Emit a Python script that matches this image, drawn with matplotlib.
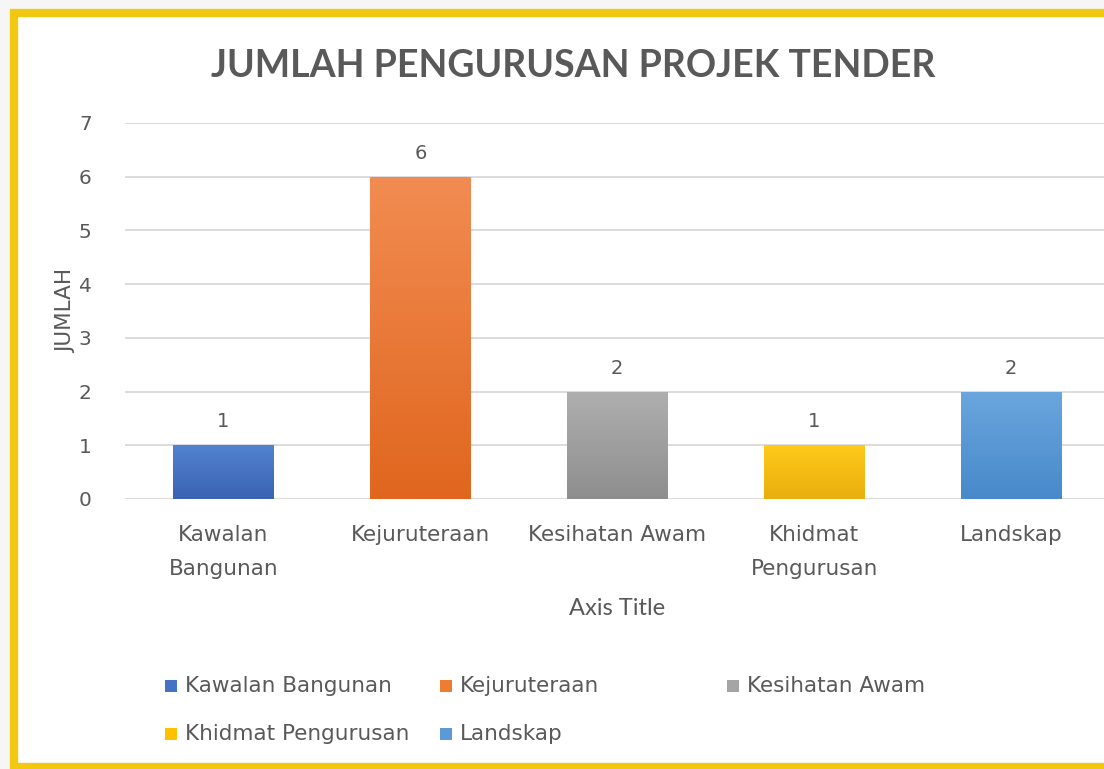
import numpy as np
import matplotlib.pyplot as plt
from matplotlib.patches import Rectangle
from matplotlib.colors import LinearSegmentedColormap

plt.rcParams['font.family'] = ['DejaVu Sans']

# ================= DATA =================
categories = ["Kawalan Bangunan", "Kejuruteraan", "Kesihatan Awam",
              "Khidmat Pengurusan", "Landskap"]
tick_labels = ["Kawalan\nBangunan", "Kejuruteraan", "Kesihatan Awam",
               "Khidmat\nPengurusan", "Landskap"]
values = [1, 6, 2, 1, 2]

# (top, bottom) gradient colours per bar
colors_top = ["#5282D0", "#F28C52", "#AFAFAF", "#FFCA1A", "#6BA6DE"]
colors_bottom = ["#3A63B2", "#E0661E", "#8E8E8E", "#E9AE0E", "#4789CA"]
legend_colors = ["#4472C4", "#ED7D31", "#A5A5A5", "#FFC000", "#5B9BD5"]

TEXT = "#595959"
GRID = "#D9D9D9"
FRAME = "#F2C811"

fig = plt.figure(figsize=(11.04, 7.69), dpi=100, facecolor="#F6F6F6")

# yellow frame with white card
fig.patches.append(Rectangle((14 / 1104, 2 / 769), 1.2, 754 / 769,
                             transform=fig.transFigure, facecolor="white",
                             edgecolor=FRAME, linewidth=6, zorder=-10))

ax = fig.add_axes([125 / 1104, 270 / 769, 984.5 / 1104, 376 / 769])
ax.set_facecolor("none")

x = np.arange(len(categories))
bars = ax.bar(x, values, width=0.51, color="none", zorder=2)

for bar, ct, cb in zip(bars, colors_top, colors_bottom):
    cmap = LinearSegmentedColormap.from_list("g", [cb, ct])
    grad = np.linspace(0, 1, 256).reshape(-1, 1)
    x0, y0 = bar.get_x(), bar.get_y()
    w, h = bar.get_width(), bar.get_height()
    im = ax.imshow(grad, extent=(x0, x0 + w, y0, y0 + h), origin="lower",
                   cmap=cmap, aspect="auto", zorder=2)
    im.set_clip_path(bar)
    ax.annotate(str(int(h)), (x0 + w / 2, h), xytext=(0, 10),
                textcoords="offset points", ha="center", va="bottom",
                fontsize=14, color=TEXT)

ax.set_xlim(-0.5, len(categories) - 0.5)
ax.set_ylim(0, 7)
ax.set_yticks(range(0, 8))
ax.yaxis.grid(True, color=GRID, linewidth=1.3)
ax.set_axisbelow(True)
for s in ax.spines.values():
    s.set_visible(False)
ax.tick_params(axis="both", length=0, colors=TEXT, labelsize=14.5)
ax.tick_params(axis="y", pad=24)
ax.tick_params(axis="x", pad=19)
ax.set_xticks(x)
ax.set_xticklabels(tick_labels, linespacing=1.85, fontsize=15.5)

ax.set_ylabel("JUMLAH", fontsize=15.5, color=TEXT, labelpad=2)
ax.set_xlabel("Axis Title", fontsize=17, color=TEXT, labelpad=14,
              family=["Lato", "DejaVu Sans"])

fig.text(573 / 1104, 1 - 66 / 769, "JUMLAH PENGURUSAN PROJEK TENDER",
         ha="center", va="center", fontsize=27, fontweight="bold", color=TEXT,
         family=["Lato", "DejaVu Sans"])

# legend laid out like Excel: 3 columns, 2 rows
col_x = [165, 440, 727]
row_y = [686, 734]
for i, (name, c) in enumerate(zip(categories, legend_colors)):
    r, k = divmod(i, 3)
    px, py = col_x[k], row_y[r]
    fig.patches.append(Rectangle((px / 1104, 1 - (py + 6) / 769), 12 / 1104, 12 / 769,
                                 transform=fig.transFigure, facecolor=c,
                                 edgecolor="none"))
    fig.text((px + 20) / 1104, 1 - py / 769, name, ha="left", va="center",
             fontsize=15.5, color=TEXT)

fig.savefig("out.png", dpi=100, facecolor=fig.get_facecolor())
